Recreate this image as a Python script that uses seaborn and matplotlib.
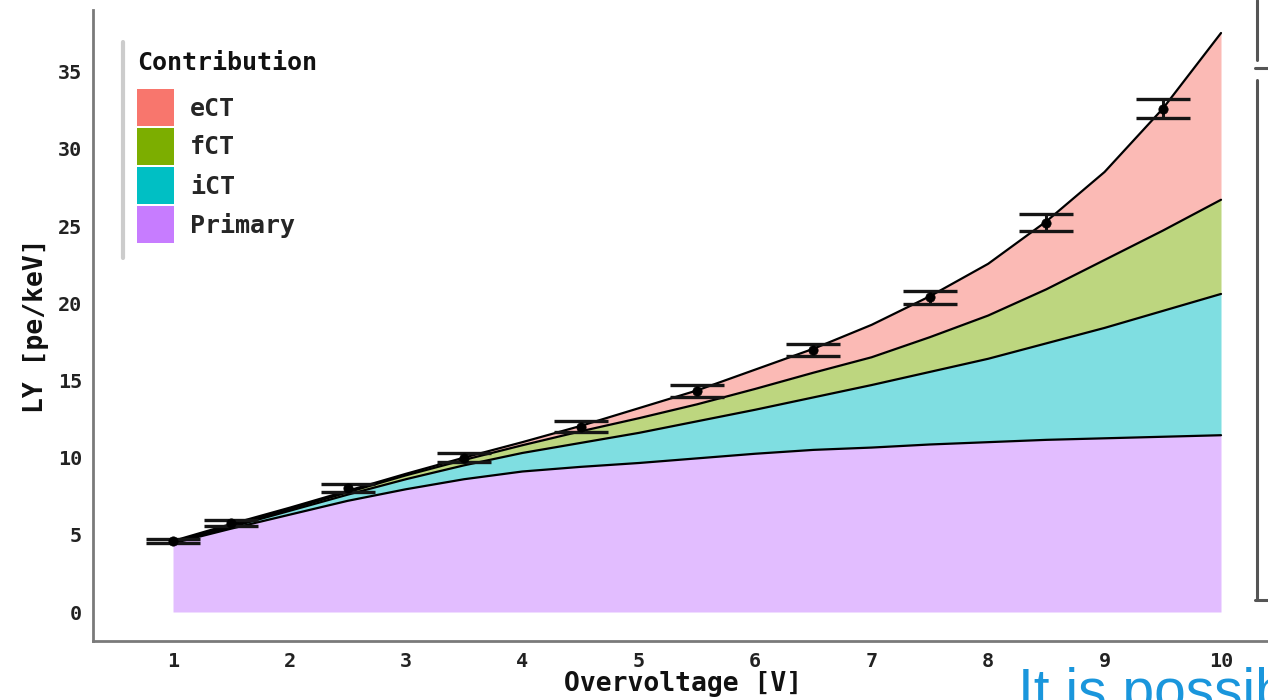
import numpy as np
import pandas as pd
import matplotlib
matplotlib.use("Agg")
import matplotlib.pyplot as plt
import seaborn as sns
from matplotlib.patches import Patch
from matplotlib.lines import Line2D

# ---------------- data ----------------
overvoltage = [1.0, 1.5, 2.0, 2.5, 3.0, 3.5, 4.0, 4.5, 5.0, 5.5,
               6.0, 6.5, 7.0, 7.5, 8.0, 8.5, 9.0, 9.5, 10.0]
primary = [4.45, 5.40, 6.30, 7.20, 7.95, 8.60, 9.10, 9.40, 9.65, 9.95,
           10.25, 10.50, 10.65, 10.85, 11.00, 11.15, 11.25, 11.35, 11.45]
ict = [0.05, 0.10, 0.25, 0.40, 0.65, 0.90, 1.20, 1.55, 1.95, 2.40,
       2.85, 3.40, 4.05, 4.70, 5.40, 6.25, 7.15, 8.15, 9.15]
fct = [0.05, 0.10, 0.10, 0.15, 0.25, 0.35, 0.50, 0.75, 0.95, 1.10,
       1.35, 1.60, 1.80, 2.25, 2.80, 3.50, 4.40, 5.20, 6.10]
ect = [0.05, 0.10, 0.10, 0.10, 0.10, 0.15, 0.20, 0.35, 0.65, 0.90,
       1.25, 1.55, 2.10, 2.65, 3.35, 4.40, 5.70, 7.90, 10.80]

meas_v = [1.0, 1.5, 2.5, 3.5, 4.5, 5.5, 6.5, 7.5, 8.5, 9.5]
meas_ly = [4.6, 5.75, 8.05, 10.0, 12.0, 14.3, 16.95, 20.4, 25.2, 32.6]
meas_err = [0.15, 0.2, 0.25, 0.3, 0.35, 0.4, 0.4, 0.42, 0.55, 0.62]

contributions = ["eCT", "fCT", "iCT", "Primary"]
palette = {"eCT": "#F8766D", "fCT": "#7CAE00", "iCT": "#00BFC4", "Primary": "#C77CFF"}
xticks = [1, 2, 3, 4, 5, 6, 7, 8, 9, 10]
yticks = [0, 5, 10, 15, 20, 25, 30, 35]

# ---------------- style ----------------
sns.set_theme(style="white")
plt.rcParams["font.family"] = ["DejaVu Sans Mono", "DejaVu Sans"]
plt.rcParams["font.weight"] = "bold"

W, H = 1268, 700
fig = plt.figure(figsize=(W / 100, H / 100), dpi=100)
fig.patch.set_facecolor("white")
ax = fig.add_axes([93 / W, (H - 641) / H, (1274 - 93) / W, (641 - 10) / H])
ax.set_facecolor("white")

# stacked areas
layers = [primary, ict, fct, ect]
layer_names = ["Primary", "iCT", "fCT", "eCT"]
ax.stackplot(overvoltage, *layers,
             colors=[palette[n] for n in layer_names], alpha=0.5, linewidth=0)

# boundary lines (cumulative sums)
cum = np.cumsum(np.array(layers), axis=0)
long = pd.DataFrame({
    "V": np.tile(overvoltage, len(layer_names)),
    "LY": cum.ravel(),
    "layer": np.repeat(layer_names, len(overvoltage)),
})
sns.lineplot(data=long, x="V", y="LY", units="layer", estimator=None,
             color="black", linewidth=1.6, ax=ax, legend=False)

# measured points with error bars
ax.errorbar(meas_v, meas_ly, yerr=meas_err, fmt="none", ecolor="#151515",
            elinewidth=2.2, capsize=19.5, capthick=2.4, zorder=5)
sns.scatterplot(x=meas_v, y=meas_ly, color="black", s=45, edgecolor="black",
                linewidth=0.5, ax=ax, zorder=6, legend=False)

# axes
ax.set_xlim(0.313, 10.455)
ax.set_ylim(-1.878, 38.99)
ax.set_xticks(xticks)
ax.set_yticks(yticks)
ax.set_xticklabels([str(t) for t in xticks])
ax.set_yticklabels([str(t) for t in yticks])
for s in ["top", "right"]:
    ax.spines[s].set_visible(False)
for s in ["left", "bottom"]:
    ax.spines[s].set_color("#7a7a7a")
    ax.spines[s].set_linewidth(2.0)
ax.tick_params(axis="both", which="major", length=5, width=1.8, color="#7a7a7a",
               labelcolor="#222222", labelsize=14.5, pad=3, direction="out")
for lab in ax.get_xticklabels() + ax.get_yticklabels():
    lab.set_fontweight("bold")
ax.set_xlabel("Overvoltage [V]", fontsize=19, fontweight="bold",
              color="#111111", labelpad=0)
ax.set_ylabel("LY [pe/keV]", fontsize=19, fontweight="bold",
              color="#111111", labelpad=6)

# legend
fig.text(137 / W, 1 - 63 / H, "Contribution", fontsize=18, fontweight="bold",
         color="#111111", ha="left", va="center")
handles = [Patch(facecolor=palette[c], edgecolor="none", label=c) for c in contributions]
fig.legend(handles=handles, loc="upper left", bbox_to_anchor=(137 / W, 1 - 89 / H),
           frameon=False, prop={"weight": "bold", "size": 18},
           handlelength=1.48, handleheight=1.9, labelspacing=0.08,
           handletextpad=0.64, borderpad=0, borderaxespad=0)
fig.add_artist(Line2D([123 / W, 123 / W], [1 - 42 / H, 1 - 258 / H],
                      color="#cccccc", lw=3, transform=fig.transFigure))

# neighbouring panel fragment at the right edge
for seg in [([1257, 1257], [0, 60]), ([1255, 1268], [68, 68]),
            ([1257, 1257], [80, 598]), ([1255, 1268], [600, 600])]:
    fig.add_artist(Line2D([x / W for x in seg[0]], [1 - y / H for y in seg[1]],
                          color="#555555", lw=2.2, transform=fig.transFigure))

# cropped caption text
fig.text(1018 / W, 1 - 709 / H, "It is possible", fontsize=41,
         family="Liberation Sans", fontweight="normal", color="#1a96dc",
         ha="left", va="baseline")

fig.savefig("out.png", dpi=100)
